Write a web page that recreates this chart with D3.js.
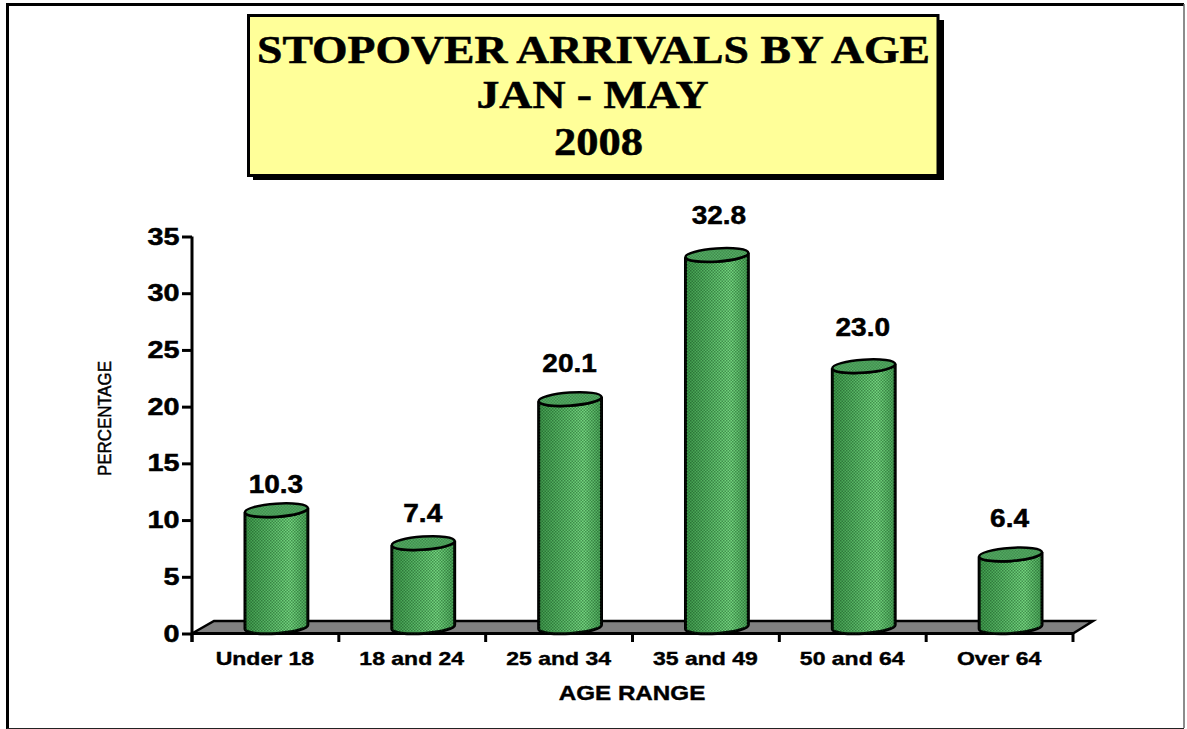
<!DOCTYPE html>
<html><head><meta charset="utf-8">
<script src="https://cdnjs.cloudflare.com/ajax/libs/d3/7.8.5/d3.min.js"></script>
<style>html,body{margin:0;padding:0;background:#fff}svg{display:block}</style></head>
<body><svg id="c" width="1187" height="729"></svg>
<script>
const categories = ["Under 18","18 and 24","25 and 34","35 and 49","50 and 64","Over 64"];
const values = [10.3,7.4,20.1,32.8,23.0,6.4];
const valueLabels = ["10.3","7.4","20.1","32.8","23.0","6.4"];
const yTicks = [0,5,10,15,20,25,30,35];
const titleLines = ["STOPOVER ARRIVALS BY AGE","JAN - MAY","2008"];
const labelGaps = [23.7,27.6,33.5,37.4,36.6,33.9];
const labelNudges = [-.5,-.5,-.5,2,-1,-1];

const svg = d3.select("#c");
const sans = "'Liberation Sans',Arial,sans-serif", serif = "'Liberation Serif','Times New Roman',serif";
const x = d3.scaleBand().domain(categories).range([192,1073]).padding(0);
const y = d3.scaleLinear().domain([0,35]).range([633.5,236.5]);
function stretch(sel,f){sel.each(function(){const n=this;n.setAttribute("textLength",n.getComputedTextLength()*f);n.setAttribute("lengthAdjust","spacingAndGlyphs");});return sel;}

const defs = svg.append("defs");
const grad = defs.append("linearGradient").attr("id","g");
[[0,"#3f9a4c"],[0.35,"#58b866"],[0.72,"#74d880"],[1,"#4aa558"]].forEach(s=>grad.append("stop").attr("offset",s[0]).attr("stop-color",s[1]));
const pat = defs.append("pattern").attr("id","d").attr("width",3).attr("height",3).attr("patternUnits","userSpaceOnUse");
pat.append("rect").attr("width",1.5).attr("height",1.5).attr("fill","#0b3d14").attr("fill-opacity",.45);
pat.append("rect").attr("x",1.5).attr("y",1.5).attr("width",1.5).attr("height",1.5).attr("fill","#0b3d14").attr("fill-opacity",.45);

// frame
svg.append("path").attr("d","M7.5,729V4.5H1184").attr("fill","none").attr("stroke","#000").attr("stroke-width",3);
svg.append("path").attr("d","M1184,4V728").attr("fill","none").attr("stroke","#666").attr("stroke-width",1.5);
svg.append("path").attr("d","M7,728.5H1184").attr("fill","none").attr("stroke","#222").attr("stroke-width",1);

// title
svg.append("rect").attr("x",253).attr("y",20).attr("width",691).attr("height",160).attr("fill","#000");
svg.append("rect").attr("x",248.5).attr("y",15.5).attr("width",689.5).attr("height",160).attr("fill","#FFFF99").attr("stroke","#000").attr("stroke-width",3);
const titleBase=[63,108,155], titleLen=[673,232,89], titleX=[593.5,592.5,598.5];
svg.selectAll(".t").data(titleLines).join("text").attr("x",(d,i)=>titleX[i]).attr("y",(d,i)=>titleBase[i])
  .attr("text-anchor","middle").attr("font-family",serif).attr("font-weight","bold").attr("font-size",39)
  .attr("stroke","#000").attr("stroke-width",.5)
  .attr("textLength",(d,i)=>titleLen[i]).attr("lengthAdjust","spacingAndGlyphs").text(d=>d);

// floor
svg.append("path").attr("d",`M${x.range()[0]},${y(0)}L214,621H1093L${x.range()[1]},${y(0)}Z`)
  .attr("fill","#808080").attr("stroke","#000").attr("stroke-width",2.5).attr("stroke-linejoin","miter");

// axes
const ay = d3.axisLeft(y).tickValues(yTicks).tickSize(10).tickFormat(()=> "");
const gy = svg.append("g").attr("transform","translate(192,0)").call(ay);
gy.selectAll("path").attr("stroke","#000").attr("stroke-width",3).attr("d",`M0,${y(35)}V642`);
gy.selectAll("line").attr("stroke","#000").attr("stroke-width",3);
stretch(svg.selectAll(".yl").data(yTicks).join("text").attr("x",179.5).attr("y",d=>y(d)+8)
  .attr("text-anchor","end").attr("font-family",sans).attr("font-weight","bold").attr("font-size",24).attr("stroke","#000").attr("stroke-width",.5).text(d=>d),1.2);
const edges = categories.map(c=>x(c)).concat([x.range()[1]]);
svg.selectAll(".xt").data(edges).join("line").attr("x1",d=>d).attr("x2",d=>d).attr("y1",y(0)).attr("y2",642).attr("stroke","#000").attr("stroke-width",3);
svg.append("line").attr("x1",192).attr("x2",1073).attr("y1",y(0)).attr("y2",y(0)).attr("stroke","#000").attr("stroke-width",3);

// cylinders
const rx=31.5, ry=6.5, rot=-4, depth=6.5, shift=11;
const c=Math.cos(rot*Math.PI/180), s=Math.sin(rot*Math.PI/180);
const g = svg.selectAll(".b").data(values).join("g");
function cx(i){return x(categories[i])+x.bandwidth()/2+shift;}
function body(d,i){
  const X=cx(i), t=y(d)-depth, b=y(0)-depth;
  return `M${X-rx*c},${t-rx*s}L${X-rx*c},${b-rx*s}A${rx},${ry} ${rot} 0 0 ${X+rx*c},${b+rx*s}L${X+rx*c},${t+rx*s}A${rx},${ry} ${rot} 0 1 ${X-rx*c},${t-rx*s}Z`;
}
g.append("path").attr("d",body).attr("fill","url(#g)").attr("stroke","#000").attr("stroke-width",3);
g.append("path").attr("d",body).attr("fill","url(#d)");
g.append("ellipse").attr("rx",rx).attr("ry",ry).attr("fill","#5cb86c").attr("stroke","#000").attr("stroke-width",2.5)
  .attr("transform",(d,i)=>`translate(${cx(i)},${y(d)-depth}) rotate(${rot})`);
g.append("ellipse").attr("rx",rx-1).attr("ry",ry-1).attr("fill","url(#d)")
  .attr("transform",(d,i)=>`translate(${cx(i)},${y(d)-depth}) rotate(${rot})`);

// value labels
stretch(svg.selectAll(".v").data(values).join("text").attr("x",(d,i)=>cx(i)+labelNudges[i]).attr("y",(d,i)=>y(d)-labelGaps[i])
  .attr("text-anchor","middle").attr("font-family",sans).attr("font-weight","bold").attr("font-size",25)
  .attr("stroke","#000").attr("stroke-width",.5).text((d,i)=>valueLabels[i]),1.12);

// category labels
stretch(svg.selectAll(".cl").data(categories).join("text").attr("x",d=>x(d)+x.bandwidth()/2-.5).attr("y",665)
  .attr("text-anchor","middle").attr("font-family",sans).attr("font-weight","bold").attr("font-size",19)
  .attr("stroke","#000").attr("stroke-width",.4).text(d=>d),1.21);
stretch(svg.append("text").attr("x",632).attr("y",700).attr("text-anchor","middle").attr("font-family",sans).attr("font-weight","bold").attr("font-size",20)
  .attr("stroke","#000").attr("stroke-width",.4).text("AGE RANGE"),1.21);
svg.append("text").attr("transform","translate(111,418.5) rotate(-90)").attr("text-anchor","middle").attr("font-family",sans).attr("font-size",17.5)
  .attr("fill","#000").attr("stroke","#000").attr("stroke-width",.45)
  .attr("textLength",115).attr("lengthAdjust","spacingAndGlyphs").text("PERCENTAGE");
</script></body></html>
